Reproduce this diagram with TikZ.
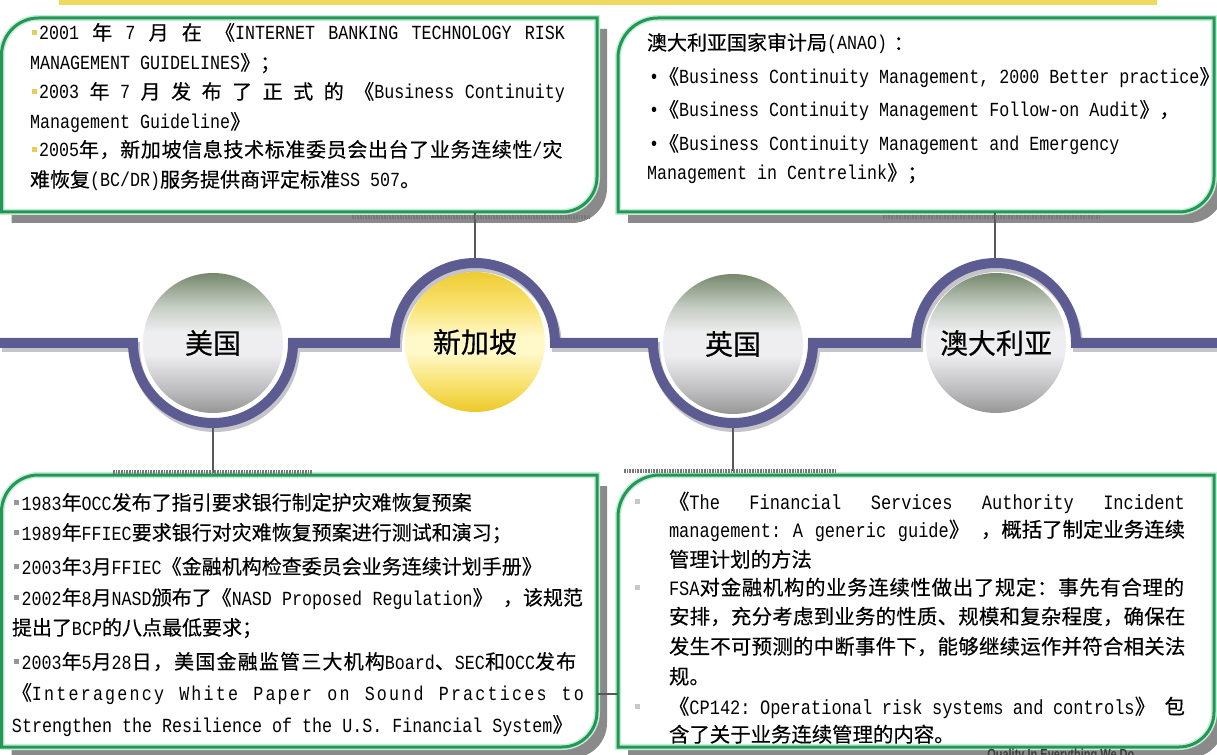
\documentclass[tikz,border=0pt]{standalone}
\usepackage{fontspec}
\setmainfont{Noto Sans CJK SC}[FakeBold=0.35]
\newfontfamily\enf[FakeStretch=0.834]{Liberation Mono}
\newfontfamily\enls[FakeStretch=0.834,LetterSpace=11]{Liberation Mono}
\newfontfamily\tagf[FakeStretch=0.75]{Liberation Sans}
\newcommand\lat[1]{{\enf #1}}
\newcommand\lls[1]{{\enls #1}}
\newcommand\lsp[2]{{\addfontfeatures{LetterSpace=#1}#2}}
\newcommand\gp{\hspace{0pt plus 1fill}}
\newcommand\fsa{\fontsize{15pt}{18pt}\selectfont}
\newcommand\fsb{\fontsize{15.3pt}{18pt}\selectfont}
\newcommand\fsc{\fontsize{21pt}{24pt}\selectfont}
\definecolor{boxgreen}{RGB}{36,150,86}
\definecolor{mint}{RGB}{195,238,214}
\definecolor{shadowgray}{RGB}{138,138,138}
\definecolor{bandc}{RGB}{92,92,146}
\definecolor{bandsh}{RGB}{196,196,202}
\definecolor{conngray}{RGB}{88,88,88}
\definecolor{dotgray}{RGB}{120,120,120}
\definecolor{topbar}{RGB}{238,218,96}
\definecolor{bulY}{RGB}{232,205,90}
\definecolor{bulG}{RGB}{150,150,150}
\definecolor{bulL}{RGB}{200,200,200}
\definecolor{taggray}{RGB}{60,60,60}
\definecolor{mbot}{RGB}{150,150,150}
\definecolor{mlow}{RGB}{188,188,190}
\definecolor{mmid}{RGB}{238,238,240}
\definecolor{mup}{RGB}{198,205,196}
\definecolor{mtop}{RGB}{118,136,108}
\definecolor{gbot}{RGB}{236,200,40}
\definecolor{glow}{RGB}{248,226,110}
\definecolor{gmid}{RGB}{255,248,200}
\definecolor{gup}{RGB}{249,226,112}
\definecolor{gtop}{RGB}{238,204,50}
\pgfdeclareverticalshading{metal}{100bp}{color(0bp)=(mbot); color(25bp)=(mbot); color(33bp)=(mlow); color(46bp)=(mmid); color(54bp)=(mmid); color(63bp)=(mup); color(75bp)=(mtop); color(100bp)=(mtop)}
\pgfdeclareverticalshading{gold}{100bp}{color(0bp)=(gbot); color(25bp)=(gbot); color(35bp)=(glow); color(46bp)=(gmid); color(52bp)=(gmid); color(63bp)=(gup); color(75bp)=(gtop); color(100bp)=(gtop)}
\newcommand\ybul{\textcolor{bulY}{\rule[3.75pt]{3.75pt}{3.75pt}}\hspace{1.5pt}}
\newcommand\gbul{\textcolor{bulG}{\rule[3.5pt]{3.75pt}{3.75pt}}\hspace{2pt}}
\newcommand\lbul{\llap{\textcolor{bulL}{\rule[3.5pt]{3.75pt}{3.75pt}}\hspace{21.5pt}}}
\newcommand\tlpath{(1.5,212) -- (1.5,55) arc[start angle=180,end angle=270,radius=37] -- (597,18) -- (597,177) arc[start angle=0,end angle=90,radius=35] -- cycle}
\newcommand\trpath{(618,212) -- (618,58) arc[start angle=180,end angle=270,radius=40] -- (1214,18) -- (1214,177) arc[start angle=0,end angle=90,radius=35] -- cycle}
\newcommand\blpath{(1.5,747) -- (1.5,512) arc[start angle=180,end angle=270,radius=37] -- (597,475) -- (597,712) arc[start angle=0,end angle=90,radius=35] -- cycle}
\newcommand\brpath{(618,747) -- (618,517) arc[start angle=180,end angle=270,radius=42] -- (1214,475) -- (1214,712) arc[start angle=0,end angle=90,radius=35] -- cycle}
\newcommand\bandpath{(0,343) -- (133,343) arc[start angle=180,end angle=0,radius=80] -- (395,343) arc[start angle=180,end angle=360,radius=80] -- (653,343) arc[start angle=180,end angle=0,radius=80] -- (916,343) arc[start angle=180,end angle=360,radius=80] -- (1217,343)}
\begin{document}
\begin{tikzpicture}[x=0.75pt,y=-0.75pt,
  boxshadow/.style={fill=shadowgray, shift={(10,11)}},
  boxglow/.style={draw=mint, line width=4.5pt},
  boxedge/.style={draw=boxgreen, line width=2.25pt},
  band/.style={draw=bandc, line width=7.5pt},
  bandshadow/.style={draw=bandsh, line width=7.5pt, shift={(2,4)}},
  conn/.style={draw=conngray, line width=1.6pt},
  thinconn/.style={draw=conngray, line width=0.8pt},
  dotbar/.style={draw=dotgray, line width=2.6pt, dash pattern=on 1.3pt off 0.7pt},
  ln/.style={anchor=base west, inner sep=0pt, outer sep=0pt, font=\fsa},
  lnb/.style={ln, font=\fsb},
  cty/.style={circle, minimum size=105pt, inner sep=0pt, font=\fsc, text=black}]
\useasboundingbox (0,0) rectangle (1217,755);
\clip (0,0) rectangle (1217,755);
% top bar
\fill[topbar] (59,0) rectangle (1157,5);
% shadows
\fill[boxshadow] \tlpath;
\fill[boxshadow] \trpath;
\fill[boxshadow] \blpath;
\fill[boxshadow] \brpath;
% boxes
\foreach \p in {\tlpath,\trpath,\blpath,\brpath}{
  \fill[white] \p;
  \draw[boxglow] \p;
  \draw[boxedge] \p;
}
% band
\draw[bandshadow] \bandpath;
\draw[band] \bandpath;
% circles
\node[cty, shading=metal] (us) at (213,343) {美国};
\node[cty, shading=gold] (sg) at (475,342) {新加坡};
\node[cty, shading=metal] (uk) at (733,344) {英国};
\node[cty, shading=metal] (au) at (996,343) {澳大利亚};
% connector points
\coordinate (tlc) at (475,213);
\coordinate (sgtop) at (475,258);
\coordinate (trc) at (995,213);
\coordinate (autop) at (995,258);
\coordinate (usbot) at (213,428);
\coordinate (blc) at (213,473);
\coordinate (ukbot) at (733,428);
\coordinate (brc) at (733,471);
\coordinate (blr) at (597,694);
\coordinate (brl) at (618,694);
\draw[conn] (tlc) -- (sgtop);
\draw[conn] (trc) -- (autop);
\draw[conn] (usbot) -- (blc);
\draw[conn] (ukbot) -- (brc);
\draw[thinconn] (blr) -- (brl);
% dotted bars
\draw[dotbar] (352,217) -- (590,217);
\draw[dotbar] (883,217) -- (1100,217);
\draw[dotbar] (113,472) -- (312,472);
\draw[dotbar] (624,471) -- (835,471);
% top-left text
\node[ln] (tl1) at (32,40) {\makebox[399.75pt][s]{\ybul\lat{2001}\gp 年\gp\lat{7}\gp 月\gp 在\gp《\lat{INTERNET}\gp\lat{BANKING}\gp\lat{TECHNOLOGY}\gp\lat{RISK}}};
\node[ln] (tl2) at (30,70) {\lat{MANAGEMENT GUIDELINES}》；};
\node[ln] (tl3) at (32,99) {\makebox[399.75pt][s]{\ybul\lat{2003}\gp 年\gp\lat{7}\gp 月\gp 发\gp 布\gp 了\gp 正\gp 式\gp 的\gp《\lat{Business}\gp\lat{Continuity}}};
\node[ln] (tl4) at (30,129) {\lat{Management Guideline}》};
\node[ln] (tl5) at (32,157) {\ybul\lsp{3.2}{\lat{2005}年，新加坡信息技术标准委员会出台了业务连续性\lat{/}灾}};
\node[ln] (tl6) at (30,187) {难恢复\lat{(BC/DR)}服务提供商评定标准\lat{SS 507}。};
% top-right text
\node[ln] (tr1) at (647,50) {澳大利亚国家审计局\lat{(ANAO)}\hspace{5pt}：};
\node[ln] (tr2) at (649,84) {\lat{•}《\lat{Business Continuity Management, 2000 Better practice}》};
\node[ln] (tr3) at (649,117) {\lat{•}《\lat{Business Continuity Management Follow-on Audit}》，};
\node[ln] (tr4) at (649,151) {\lat{•}《\lat{Business Continuity Management and Emergency}};
\node[ln] (tr5) at (647,180) {\lat{Management in Centrelink}》；};
% bottom-left text
\node[ln] (bl1) at (14,510) {\gbul\lat{1983}年\lat{OCC}发布了指引要求银行制定护灾难恢复预案};
\node[ln] (bl2) at (14,540) {\gbul\lat{1989}年\lat{FFIEC}要求银行对灾难恢复预案进行测试和演习；};
\node[ln] (bl3) at (14,574) {\gbul\lat{2003}年\lat{3}月\lat{FFIEC}《金融机构检查委员会业务连续计划手册》};
\node[ln] (bl4) at (14,605) {\makebox[426.75pt][s]{\gbul\lat{2002}年\lat{8}月\lat{NASD}颁布了《\lat{NASD}\gp\lat{Proposed}\gp\lat{Regulation}》\gp，该规范}};
\node[ln] (bl5) at (12,635) {提出了\lat{BCP}的八点最低要求；};
\node[ln] (bl6) at (14,669) {\gbul\lsp{6}{\lat{2003}年\lat{5}月\lat{28}日，美国金融监管三大机构\lat{Board}、\lat{SEC}和\lat{OCC}发布}};
\node[ln] (bl7) at (12,700) {\makebox[429pt][s]{《\lls{Interagency}\gp\lls{White}\gp\lls{Paper}\gp\lls{on}\gp\lls{Sound}\gp\lls{Practices}\gp\lls{to}}};
\node[ln] (bl8) at (12,732) {\lat{Strengthen the Resilience of the U.S. Financial System}》};
% bottom-right text
\node[lnb] (br1) at (669,509) {\lbul\makebox[387pt][s]{《\lat{The}\gp\lat{Financial}\gp\lat{Services}\gp\lat{Authority}\gp\lat{Incident}}};
\node[lnb] (br2) at (669,537) {\makebox[387pt][s]{\lat{management:}\gp\lat{A}\gp\lat{generic}\gp\lat{guide}》\gp，概括了制定业务连续}};
\node[lnb] (br3) at (669,567) {管理计划的方法};
\node[lnb] (br4) at (669,595) {\lbul\lsp{3.4}{\lat{FSA}对金融机构的业务连续性做出了规定：事先有合理的}};
\node[lnb] (br5) at (669,624) {\lsp{1.3}{安排，充分考虑到业务的性质、规模和复杂程度，确保在}};
\node[lnb] (br6) at (669,654) {\lsp{1.3}{发生不可预测的中断事件下，能够继续运作并符合相关法}};
\node[lnb] (br7) at (669,684) {规。};
\node[lnb] (br8) at (669,714) {\lbul\makebox[387pt][s]{《\lat{CP142:}\gp\lat{Operational}\gp\lat{risk}\gp\lat{systems}\gp\lat{and}\gp\lat{controls}》\gp 包}};
\node[lnb] (br9) at (669,742) {含了关于业务连续管理的内容。};
% clipped tagline
\node[anchor=base west, inner sep=0pt, text=taggray, font=\tagf\bfseries\fontsize{11pt}{13pt}\selectfont] (tag) at (987,759) {Quality In Everything We Do};
\end{tikzpicture}
\end{document}
